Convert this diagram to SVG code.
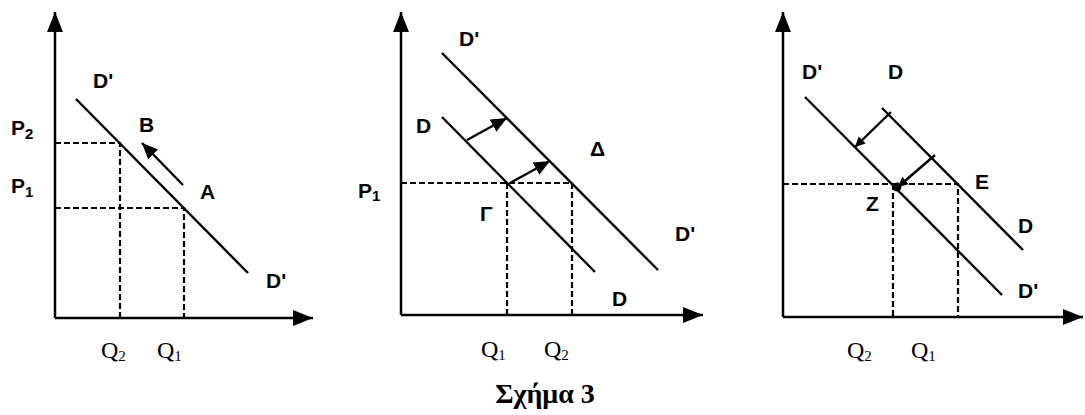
<svg xmlns="http://www.w3.org/2000/svg" width="1085" height="415" viewBox="0 0 1085 415">
<style>
.ax{stroke:#000;stroke-width:2.5;fill:none}
.ln{stroke:#000;stroke-width:2.4;fill:none}
.ds{stroke:#000;stroke-width:2.2;fill:none;stroke-dasharray:6 3}
.lb{font-family:"Liberation Sans",Arial,sans-serif;font-weight:bold;font-size:21px;fill:#000}
.q{font-family:"Liberation Serif","Times New Roman",serif;font-size:24px;fill:#000}
.sub{font-size:15px}
.cap{font-family:"Liberation Serif","Times New Roman",serif;font-weight:bold;font-size:28px;fill:#000}
</style>
<defs>
<marker id="ah" markerUnits="userSpaceOnUse" markerWidth="22" markerHeight="18" refX="20" refY="8" orient="auto">
<path d="M0,0 L20,8 L0,16 z" fill="#000"/>
</marker>
<marker id="sa" markerUnits="userSpaceOnUse" markerWidth="18" markerHeight="16" refX="16" refY="7" orient="auto">
<path d="M0,0 L16,7 L0,14 z" fill="#000"/>
</marker>
<marker id="ta" markerUnits="userSpaceOnUse" markerWidth="12" markerHeight="12" refX="10" refY="5" orient="auto">
<path d="M0,0 L10,5 L0,10 z" fill="#000"/>
</marker>
</defs>

<g id="panel1">
<g id="p1-axes">
<line class="ax" x1="55" y1="318" x2="55" y2="12" marker-end="url(#ah)"/>
<line class="ax" x1="55" y1="318" x2="313" y2="318" marker-end="url(#ah)"/>
</g>
<g id="p1-connectors">
<line class="ln" x1="76" y1="99" x2="248" y2="273"/>
<polyline class="ds" points="55,143 120,143 120,318"/>
<polyline class="ds" points="55,208 184,208 184,318"/>
<line class="ln" x1="183" y1="185" x2="142" y2="143" marker-end="url(#sa)"/>
</g>
<g id="p1-labels">
<text class="lb" x="93" y="88">D'</text>
<text class="lb" x="11" y="135">P<tspan class="sub" dy="4">2</tspan></text>
<text class="lb" x="139" y="132">B</text>
<text class="lb" x="11" y="193">P<tspan class="sub" dy="4">1</tspan></text>
<text class="lb" x="200" y="199">A</text>
<text class="lb" x="266" y="288">D'</text>
<text class="q" x="101" y="358">Q<tspan class="sub" dy="3">2</tspan></text>
<text class="q" x="157" y="358">Q<tspan class="sub" dy="3">1</tspan></text>
</g>
</g>

<g id="panel2">
<g id="p2-axes">
<line class="ax" x1="401" y1="315" x2="401" y2="12" marker-end="url(#ah)"/>
<line class="ax" x1="401" y1="315" x2="703" y2="315" marker-end="url(#ah)"/>
</g>
<g id="p2-connectors">
<line class="ln" x1="442" y1="53" x2="658" y2="270"/>
<line class="ln" x1="442" y1="117" x2="595" y2="272"/>
<polyline class="ds" points="401,183 572,183 572,315"/>
<line class="ds" x1="507" y1="183" x2="507" y2="315"/>
<line class="ln" x1="467" y1="140" x2="507" y2="118" marker-end="url(#sa)"/>
<line class="ln" x1="510" y1="183" x2="550" y2="161" marker-end="url(#sa)"/>
</g>
<g id="p2-labels">
<text class="lb" x="459" y="46">D'</text>
<text class="lb" x="416" y="133">D</text>
<text class="lb" x="590" y="156">Δ</text>
<text class="lb" x="358" y="198">P<tspan class="sub" dy="3">1</tspan></text>
<text class="lb" x="480" y="221">Γ</text>
<text class="lb" x="675" y="241">D'</text>
<text class="lb" x="612" y="306">D</text>
<text class="q" x="481" y="357">Q<tspan class="sub" dy="3">1</tspan></text>
<text class="q" x="544" y="357">Q<tspan class="sub" dy="3">2</tspan></text>
</g>
</g>

<g id="panel3">
<g id="p3-axes">
<line class="ax" x1="783" y1="317" x2="783" y2="12" marker-end="url(#ah)"/>
<line class="ax" x1="783" y1="317" x2="1083" y2="317" marker-end="url(#ah)"/>
</g>
<g id="p3-connectors">
<line class="ln" x1="805" y1="97" x2="1002" y2="295"/>
<line class="ln" x1="882" y1="108" x2="1023" y2="250"/>
<polyline class="ds" points="783,184 958,184 958,317"/>
<line class="ds" x1="893" y1="184" x2="893" y2="317"/>
<line class="ln" x1="891" y1="112" x2="855" y2="147" marker-end="url(#ta)"/>
<line class="ln" x1="935" y1="155" x2="898" y2="187" marker-end="url(#ta)"/>
<circle cx="897" cy="187" r="4.5" fill="#000"/>
</g>
<g id="p3-labels">
<text class="lb" x="802" y="79">D'</text>
<text class="lb" x="888" y="79">D</text>
<text class="lb" x="975" y="189">E</text>
<text class="lb" x="866" y="211">Z</text>
<text class="lb" x="1018" y="233">D</text>
<text class="lb" x="1018" y="298">D'</text>
<text class="q" x="847" y="358">Q<tspan class="sub" dy="3">2</tspan></text>
<text class="q" x="911" y="358">Q<tspan class="sub" dy="3">1</tspan></text>
</g>
</g>

<text id="caption" class="cap" x="545" y="403" text-anchor="middle">Σχήμα 3</text>
</svg>
